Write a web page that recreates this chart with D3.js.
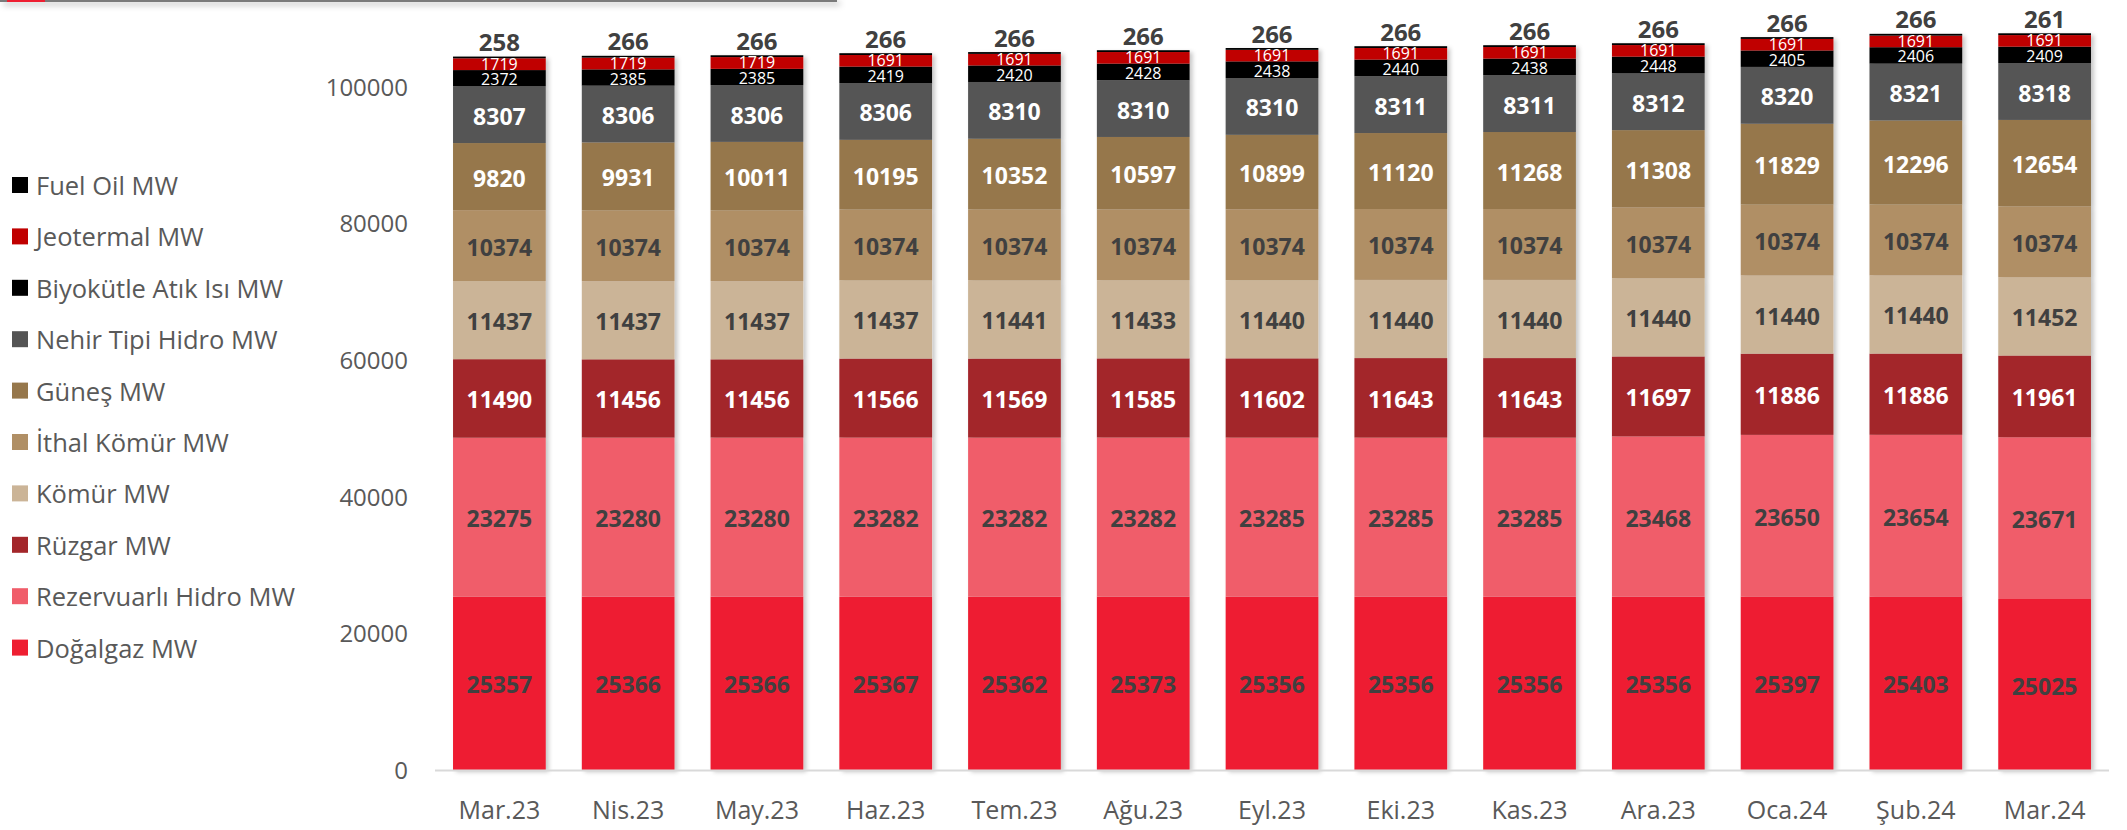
<!DOCTYPE html>
<html><head><meta charset="utf-8">
<script src="https://cdn.jsdelivr.net/npm/d3@7/dist/d3.min.js"></script>
<style>
html,body{margin:0;padding:0;background:#fff;}
svg{display:block;font-family:"Open Sans","Noto Sans",sans-serif;}
</style></head>
<body>
<svg id="chart" width="2127" height="830"></svg>
<script>
const categories = ["Mar.23","Nis.23","May.23","Haz.23","Tem.23","Ağu.23","Eyl.23","Eki.23","Kas.23","Ara.23","Oca.24","Şub.24","Mar.24"];
const seriesNames = ["Doğalgaz MW","Rezervuarlı Hidro MW","Rüzgar MW","Kömür MW","İthal Kömür MW","Güneş MW","Nehir Tipi Hidro MW","Biyokütle Atık Isı MW","Jeotermal MW","Fuel Oil MW"];
const dogalgaz   = [25357,25366,25366,25367,25362,25373,25356,25356,25356,25356,25397,25403,25025];
const rezervuarli= [23275,23280,23280,23282,23282,23282,23285,23285,23285,23468,23650,23654,23671];
const ruzgar     = [11490,11456,11456,11566,11569,11585,11602,11643,11643,11697,11886,11886,11961];
const komur      = [11437,11437,11437,11437,11441,11433,11440,11440,11440,11440,11440,11440,11452];
const ithalKomur = [10374,10374,10374,10374,10374,10374,10374,10374,10374,10374,10374,10374,10374];
const gunes      = [9820,9931,10011,10195,10352,10597,10899,11120,11268,11308,11829,12296,12654];
const nehir      = [8307,8306,8306,8306,8310,8310,8310,8311,8311,8312,8320,8321,8318];
const biyokutle  = [2372,2385,2385,2419,2420,2428,2438,2440,2438,2448,2405,2406,2409];
const jeotermal  = [1719,1719,1719,1691,1691,1691,1691,1691,1691,1691,1691,1691,1691];
const fuelOil    = [258,266,266,266,266,266,266,266,266,266,266,266,261];
const yTicks = [0,20000,40000,60000,80000,100000];

const seriesValues = [dogalgaz,rezervuarli,ruzgar,komur,ithalKomur,gunes,nehir,biyokutle,jeotermal,fuelOil];
const colors = ["#EE1E31","#F05D6A","#A3262A","#CBB497","#B08F65","#96774B","#545454","#000000","#C00000","#000000"];
const labelFill = ["#404040","#404040","#ffffff","#404040","#404040","#ffffff","#ffffff","#ffffff","#ffffff","#404040"];

const svg = d3.select("#chart");
const defs = svg.append("defs");
const f = defs.append("filter").attr("id","sh").attr("x","-10%").attr("y","-10%").attr("width","130%").attr("height","130%");
f.append("feDropShadow").attr("dx",3).attr("dy",2).attr("stdDeviation",2).attr("flood-color","#000").attr("flood-opacity",0.22);
const f2 = defs.append("filter").attr("id","sh2").attr("x","-5%").attr("y","-100%").attr("width","110%").attr("height","800%");
f2.append("feDropShadow").attr("dx",3).attr("dy",3).attr("stdDeviation",3).attr("flood-color","#000").attr("flood-opacity",0.3);

// top header remnant
svg.append("rect").attr("x",0).attr("y",-1).attr("width",837).attr("height",3).attr("fill","#7a7a7a").attr("filter","url(#sh2)");
svg.append("rect").attr("x",7).attr("y",-1).attr("width",38).attr("height",3).attr("fill","#EE1E31");

const x = d3.scaleBand().domain(categories).range([435,2109]).paddingInner(0.28).paddingOuter(0.14);
const y = d3.scaleLinear().domain([0,120000]).range([770, 770-120000*(683.3/100000)]);

const data = categories.map((c,i)=>{
  const o = {cat:c};
  seriesNames.forEach((s,j)=>o[s]=seriesValues[j][i]);
  return o;
});
const stack = d3.stack().keys(seriesNames)(data);

const barsG = svg.append("g").attr("filter","url(#sh)");
stack.forEach((layer,j)=>{
  barsG.append("g").selectAll("rect").data(layer).join("rect")
    .attr("x",d=>x(d.data.cat))
    .attr("width",x.bandwidth())
    .attr("y",d=>y(d[1]))
    .attr("height",d=>y(d[0])-y(d[1]))
    .attr("fill",colors[j]);
});

// axis baseline
svg.append("line").attr("x1",435).attr("x2",2109).attr("y1",y(0)+0.5).attr("y2",y(0)+0.5)
  .attr("stroke","#D9D9D9").attr("stroke-width",2);

// labels
stack.forEach((layer,j)=>{
  const g = svg.append("g");
  layer.forEach(d=>{
    const cx = x(d.data.cat)+x.bandwidth()/2;
    const v = d[1]-d[0];
    if (j===9){
      g.append("text").attr("x",cx).attr("y",y(d[1])-15).attr("text-anchor","middle")
        .attr("dominant-baseline","central").attr("font-size",24).attr("font-weight",700)
        .attr("fill",labelFill[j]).text(v);
    } else if (j===7 || j===8){
      const off = j===8 ? -0.5 : 1;
      g.append("text").attr("x",cx).attr("y",(y(d[0])+y(d[1]))/2+off).attr("text-anchor","middle")
        .attr("dominant-baseline","central").attr("font-size",16).attr("font-weight",400)
        .attr("fill",labelFill[j]).text(v);
    } else {
      g.append("text").attr("x",cx).attr("y",(y(d[0])+y(d[1]))/2+1).attr("text-anchor","middle")
        .attr("dominant-baseline","central").attr("font-size",23).attr("font-weight",700)
        .attr("fill",labelFill[j]).text(v);
    }
  });
});

// y axis labels
const yAxis = d3.axisLeft(y).tickValues(yTicks).tickSize(0).tickPadding(0).tickFormat(d=>String(d));
const yg = svg.append("g").attr("transform","translate(408,0)").call(yAxis);
yg.select(".domain").remove();
yg.selectAll("text").attr("font-size",24).attr("fill","#595959").attr("font-family","Open Sans").attr("dy","0.35em");

// x axis labels
const xAxis = d3.axisBottom(x).tickSize(0).tickPadding(0);
const xg = svg.append("g").attr("transform","translate(0,810)").call(xAxis);
xg.select(".domain").remove();
xg.selectAll("text").attr("font-size",25).attr("fill","#595959").attr("font-family","Open Sans").attr("dy","0.35em");

// legend (top to bottom: reversed series)
const legendOrder = seriesNames.map((s,j)=>({s,j})).reverse();
const lg = svg.append("g");
legendOrder.forEach((d,k)=>{
  const cy = 185 + k*51.4;
  lg.append("rect").attr("x",12).attr("y",cy-8).attr("width",16).attr("height",16).attr("fill",colors[d.j]);
  lg.append("text").attr("x",36).attr("y",cy).attr("dominant-baseline","central")
    .attr("font-size",25.5).attr("fill","#595959").text(d.s);
});
</script>
</body></html>
